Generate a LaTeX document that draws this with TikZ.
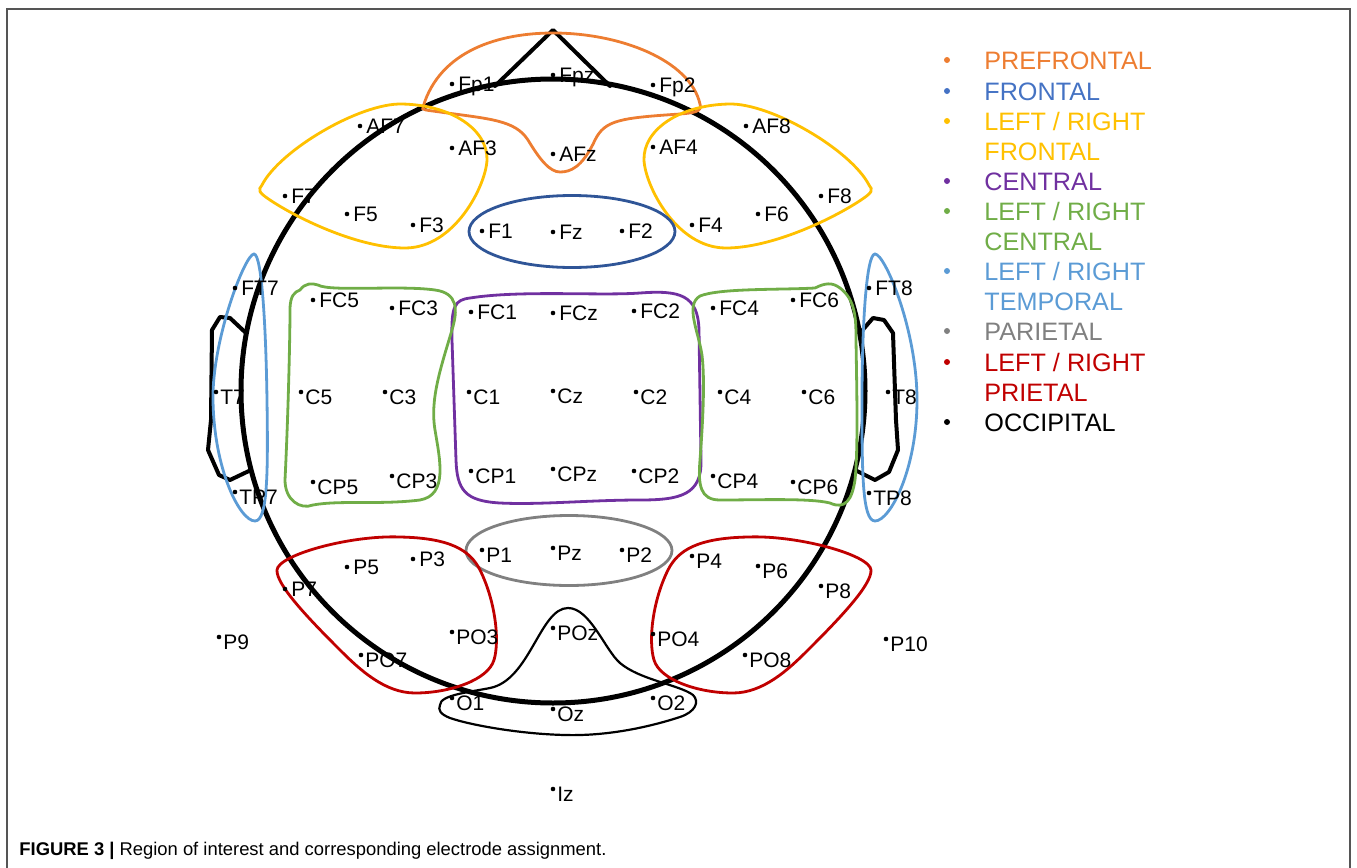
\documentclass[tikz,border=0pt]{standalone}
\usepackage{fontspec}
\setmainfont{Liberation Sans}
\definecolor{prefr}{HTML}{ED7D31}
\definecolor{frleg}{HTML}{4472C4}
\definecolor{frell}{HTML}{2F5597}
\definecolor{yel}{HTML}{FFC000}
\definecolor{pur}{HTML}{7030A0}
\definecolor{grn}{HTML}{70AD47}
\definecolor{tmp}{HTML}{5B9BD5}
\definecolor{gry}{HTML}{808080}
\definecolor{rdc}{HTML}{C00000}
\definecolor{framec}{HTML}{555555}
\tikzset{
  headline/.style={line width=2.5pt, line join=round, line cap=round},
  earline/.style={line width=2pt, line join=round, line cap=round},
  region/.style={line width=1.4pt},
  edot/.style={circle, fill=black, inner sep=0pt, minimum size=2.3pt},
  elab/.style={anchor=west, inner sep=0pt, text height=7.5pt, text depth=0pt, font=\fontsize{10.5}{12}\selectfont},
  legdot/.style={circle, inner sep=0pt, minimum size=3pt},
  legt/.style={anchor=west, inner sep=0pt, text height=9pt, text depth=0pt, font=\fontsize{12.6}{15}\selectfont},
}
\begin{document}
\begin{tikzpicture}[x=0.5pt, y=-0.5pt]
\useasboundingbox (0,0) rectangle (1357,868);
% frame
\draw[framec, line width=0.7pt] (7,868) -- (7,9) -- (1350,9) -- (1350,868);
% head
\draw[headline] (553,391) circle [radius=312];
\draw[earline] (495,86) -- (553,30) -- (610,86);
\draw[earline] (246,333) -- (230,318) -- (220,317) -- (212,330) -- (211,420) -- (208,450) -- (219,475) -- (230,480) -- (251,470);
\draw[earline] (860,333) -- (873,318) -- (884,320) -- (893,333) -- (896,420) -- (898,450) -- (889,472) -- (875,480) -- (855,470);
% prefrontal
\draw[region, prefr] (423,107) .. controls (440,50) and (500,33) .. (553,33)
  .. controls (620,33) and (690,60) .. (700,104)
  .. controls (703,112) and (692,113) .. (680,114)
  .. controls (620,118) and (605,120) .. (595,140)
  .. controls (582,168) and (570,172) .. (560,172)
  .. controls (550,172) and (540,160) .. (528,140)
  .. controls (515,120) and (490,119) .. (440,112)
  .. controls (426,110) and (421,110) .. (423,107) -- cycle;
% left / right frontal
\draw[region, yel] (262,185) .. controls (280,150) and (360,103) .. (402,104)
  .. controls (452,105) and (488,130) .. (487,160)
  .. controls (486,185) and (455,248) .. (405,248)
  .. controls (360,248) and (300,220) .. (270,200)
  .. controls (258,192) and (258,190) .. (262,185) -- cycle;
\draw[region, yel] (869,185) .. controls (851,150) and (771,103) .. (729,104)
  .. controls (679,105) and (643,130) .. (644,160)
  .. controls (645,185) and (676,248) .. (726,248)
  .. controls (771,248) and (831,220) .. (861,200)
  .. controls (873,192) and (873,190) .. (869,185) -- cycle;
% frontal
\draw[region, frell] (572,231.5) ellipse [x radius=103, y radius=36];
% central
\draw[region, pur] (470,298) .. controls (520,290) and (600,296) .. (640,293)
  .. controls (680,290) and (698,295) .. (699,330) -- (701,460)
  .. controls (702,495) and (680,500) .. (640,500)
  .. controls (590,500) and (540,505) .. (500,503)
  .. controls (465,501) and (457,490) .. (456,460) -- (452,340)
  .. controls (451,305) and (455,300) .. (470,298) -- cycle;
% left / right central
\draw[region, grn] (300,290) .. controls (305,283) and (312,283) .. (318,285)
  .. controls (330,292) and (400,285) .. (435,290)
  .. controls (458,293) and (458,310) .. (452,330)
  .. controls (440,370) and (430,400) .. (435,430)
  .. controls (440,460) and (448,495) .. (420,500)
  .. controls (380,505) and (340,500) .. (313,505)
  .. controls (300,510) and (285,500) .. (285,480)
  .. controls (288,420) and (290,340) .. (290,310)
  .. controls (290,295) and (295,292) .. (300,290) -- cycle;
\draw[region, grn] (700,296) .. controls (720,288) and (780,290) .. (815,288)
  .. controls (825,283) and (832,282) .. (840,288)
  .. controls (856,300) and (856,320) .. (856,340)
  .. controls (857,400) and (858,450) .. (855,480)
  .. controls (852,500) and (845,510) .. (830,503)
  .. controls (810,498) and (760,500) .. (720,500)
  .. controls (700,500) and (698,485) .. (700,460)
  .. controls (703,420) and (705,380) .. (702,355)
  .. controls (698,330) and (685,305) .. (700,296) -- cycle;
% left / right temporal
\draw[region, tmp] (254,254) .. controls (262,254) and (266,330) .. (267,400)
  .. controls (268,470) and (268,521) .. (255,521)
  .. controls (240,521) and (214,470) .. (213,400)
  .. controls (212,340) and (245,254) .. (254,254) -- cycle;
\draw[region, tmp] (875,254) .. controls (885,254) and (917,330) .. (917,400)
  .. controls (917,470) and (890,521) .. (875,521)
  .. controls (862,521) and (862,470) .. (862,400)
  .. controls (862,330) and (866,254) .. (875,254) -- cycle;
% parietal
\draw[region, gry] (569,550.5) ellipse [x radius=103, y radius=35];
% left / right parietal
\draw[region, rdc] (277,570) .. controls (278,555) and (350,535) .. (400,537)
  .. controls (450,538) and (470,550) .. (480,570)
  .. controls (495,600) and (500,640) .. (494,660)
  .. controls (488,680) and (450,693) .. (415,693)
  .. controls (385,693) and (360,670) .. (340,650)
  .. controls (310,620) and (276,585) .. (277,570) -- cycle;
\draw[region, rdc] (871,570) .. controls (870,555) and (798,535) .. (748,537)
  .. controls (698,538) and (678,550) .. (668,570)
  .. controls (653,600) and (648,640) .. (654,660)
  .. controls (660,680) and (698,693) .. (733,693)
  .. controls (763,693) and (788,670) .. (808,650)
  .. controls (838,620) and (872,585) .. (871,570) -- cycle;
% occipital
\draw[line width=1.1pt] (440,705) .. controls (440,695) and (470,692) .. (490,688)
  .. controls (530,680) and (540,608) .. (568,608)
  .. controls (590,608) and (605,650) .. (620,663)
  .. controls (640,680) and (680,685) .. (693,695)
  .. controls (700,702) and (695,712) .. (680,717)
  .. controls (640,730) and (600,736) .. (565,735)
  .. controls (520,734) and (470,725) .. (450,718)
  .. controls (440,714) and (438,710) .. (440,705) -- cycle;
% electrodes, dot at text middle
\foreach \n/\x/\y in {Fp1/452/84, Fpz/553/75, Fp2/653/85, AF7/360/126, AF3/452/148, AFz/553/154, AF4/653/147, AF8/746/126,
  F7/285/196, F5/347/214, F3/413/225, F1/482/231, Fz/553/232, F2/622/231, F4/692/225, F6/758/214, F8/821/196,
  FT7/235/288, FC5/313/300, FC3/392/308, FC1/471/312, FCz/553/313, FC2/634/311, FC4/713/308, FC6/793/300, FT8/869/288,
  P5/347/567, P3/413/559, P7/285/589}
  {\node[edot] (\n) at (\x,\y) {};
   \node[elab] (\n-t) at ([xshift=3pt]\n.center) {\n};}
% electrodes, dot near top of text
\foreach \n/\x/\y in {T7/216/392, C5/301/392, C3/385/392, C1/469/392, Cz/553/391, C2/636/392, C4/720/392, C6/804/392, T8/888/392,
  TP7/235/492, CP5/313/482, CP3/392/476, CP1/471/471, CPz/553/469, CP2/634/471, CP4/713/476, CP6/793/482, TP8/869/493,
  P1/482/550, Pz/553/548, P2/622/550, P4/692/556, P6/758/566, P8/821/586, P9/219/637, P10/886/639,
  PO3/452/632, POz/553/628, PO4/653/634, PO7/361/655, PO8/745/655, O1/452/698, Oz/553/709, O2/653/698, Iz/553/789}
  {\node[edot] (\n) at (\x,\y) {};
   \node[elab] (\n-t) at ([xshift=2pt, yshift=-2.5pt]\n.center) {\n};}
% legend
\node[legdot, fill=prefr] (b1) at (947,60) {};
\node[legt, text=prefr] (l1) at (984,60) {PREFRONTAL};
\node[legdot, fill=frleg] (b2) at (947,91) {};
\node[legt, text=frleg] (l2) at (984,91) {FRONTAL};
\node[legdot, fill=yel] (b3) at (947,121) {};
\node[legt, text=yel] (l3) at (984,121) {LEFT / RIGHT};
\node[legt, text=yel] (l3b) at (984,151) {FRONTAL};
\node[legdot, fill=pur] (b4) at (947,181) {};
\node[legt, text=pur] (l4) at (984,181) {CENTRAL};
\node[legdot, fill=grn] (b5) at (947,211) {};
\node[legt, text=grn] (l5) at (984,211) {LEFT / RIGHT};
\node[legt, text=grn] (l5b) at (984,241) {CENTRAL};
\node[legdot, fill=tmp] (b6) at (947,271) {};
\node[legt, text=tmp] (l6) at (984,271) {LEFT / RIGHT};
\node[legt, text=tmp] (l6b) at (984,301) {TEMPORAL};
\node[legdot, fill=gry] (b7) at (947,331) {};
\node[legt, text=gry] (l7) at (984,331) {PARIETAL};
\node[legdot, fill=rdc] (b8) at (947,362) {};
\node[legt, text=rdc] (l8) at (984,362) {LEFT / RIGHT};
\node[legt, text=rdc] (l8b) at (984,392) {PRIETAL};
\node[legdot, fill=black] (b9) at (947,422) {};
\node[legt, text=black] (l9) at (984,422) {OCCIPITAL};
% caption
\node[anchor=west, inner sep=0pt, text height=6.6pt, text depth=0pt, font=\fontsize{9.2}{11}\selectfont] (cap) at (19,849)
  {\textbf{FIGURE 3 |} Region of interest and corresponding electrode assignment.};
\end{tikzpicture}
\end{document}
